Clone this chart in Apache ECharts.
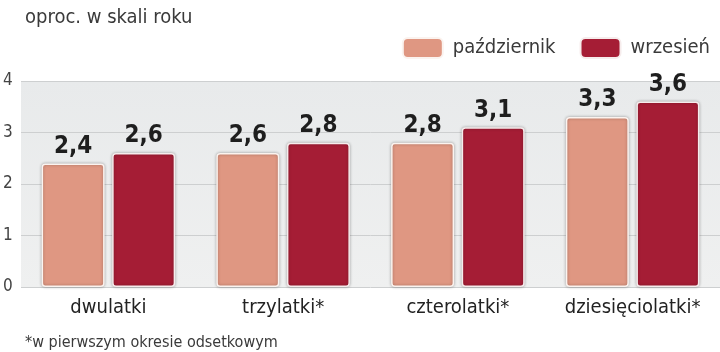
<!DOCTYPE html>
<html>
<head>
<meta charset="utf-8">
<script src="https://cdn.jsdelivr.net/npm/echarts@6/dist/echarts.min.js"></script>
<style>
  html, body { margin: 0; padding: 0; background: #fff; }
  #chart { width: 720px; height: 352px; }
</style>
</head>
<body>
<div id="chart"></div>
<script>
const categories = ['dwulatki', 'trzylatki*', 'czterolatki*', 'dziesięciolatki*'];
const october = [2.4, 2.6, 2.8, 3.3];
const september = [2.6, 2.8, 3.1, 3.6];
const yTicks = [0, 1, 2, 3, 4];

const FONT = "'DejaVu Sans Condensed', sans-serif";
const fmt = v => String(v.value).replace('.', ',');

const chart = echarts.init(document.getElementById('chart'));

const barLabel = {
    show: true,
    position: 'top',
    distance: 5,
    formatter: fmt,
    fontFamily: FONT,
    fontWeight: 'bold',
    fontSize: 24,
    color: '#1e1e1e'
};

chart.setOption({
    backgroundColor: '#ffffff',
    title: [{
        text: 'oproc. w skali roku',
        left: 20,
        top: 3,
        textStyle: { fontFamily: FONT, fontWeight: 'normal', fontSize: 20, color: '#3a3a3a' }
    }, {
        text: '*w pierwszym okresie odsetkowym',
        left: 20,
        top: 330,
        textStyle: { fontFamily: FONT, fontWeight: 'normal', fontSize: 16, color: '#3a3a3a' }
    }],
    legend: {
        right: 5,
        top: 32,
        itemWidth: 40,
        itemHeight: 20,
        itemGap: 24,
        icon: 'roundRect',
        textStyle: { fontFamily: FONT, fontSize: 20, color: '#3a3a3a', padding: [0, 0, 0, 5] },
        data: ['październik', 'wrzesień']
    },
    grid: {
        left: 17,
        right: 0,
        top: 81,
        bottom: 65,
        show: true,
        borderWidth: 0,
        backgroundColor: new echarts.graphic.LinearGradient(0, 0, 0, 1, [
            { offset: 0, color: '#e8eaeb' },
            { offset: 1, color: '#eff0f0' }
        ])
    },
    xAxis: {
        type: 'category',
        data: categories,
        axisLine: { show: false },
        axisTick: { show: false },
        axisLabel: {
            interval: 0,
            margin: 11,
            fontFamily: FONT,
            fontSize: 20,
            color: '#222'
        }
    },
    yAxis: {
        type: 'value',
        min: yTicks[0],
        max: yTicks[yTicks.length - 1],
        interval: 1,
        axisLine: { show: false },
        axisTick: { show: false },
        axisLabel: {
            align: 'left',
            margin: 18,
            fontFamily: FONT,
            fontSize: 17,
            color: '#444'
        },
        splitLine: { lineStyle: { color: '#cdcfd0', width: 1 } }
    },
    series: [{
        name: 'październik',
        type: 'bar',
        data: october,
        barWidth: 63,
        barGap: '12%',
        itemStyle: {
            color: '#df9782',
            borderColor: '#fbf3ef',
            borderWidth: 1.5,
            borderRadius: 3,
            shadowColor: 'rgba(0,0,0,0.3)',
            shadowBlur: 3
        },
        label: barLabel
    }, {
        name: 'wrzesień',
        type: 'bar',
        data: september,
        barWidth: 63,
        itemStyle: {
            color: '#a51d35',
            borderColor: '#f6ecec',
            borderWidth: 1.5,
            borderRadius: 3,
            shadowColor: 'rgba(0,0,0,0.3)',
            shadowBlur: 3
        },
        label: barLabel
    }]
});
</script>
</body>
</html>
